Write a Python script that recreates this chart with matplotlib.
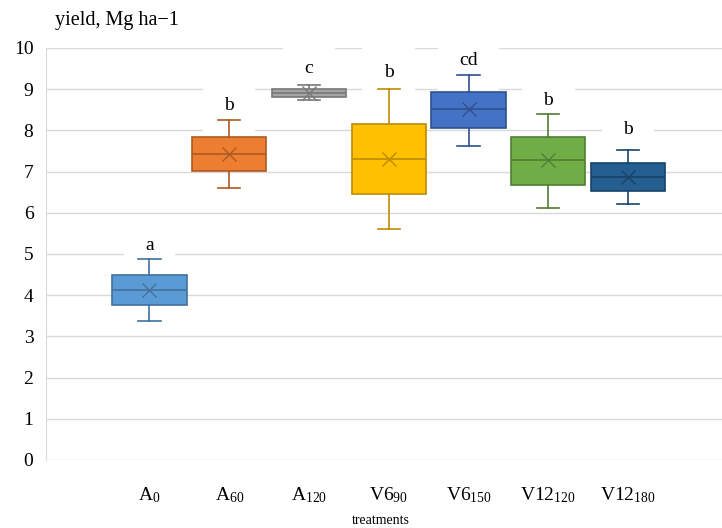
import numpy as np
import matplotlib
matplotlib.use("Agg")
import matplotlib.pyplot as plt

plt.rcParams['font.family'] = ['Liberation Serif', 'DejaVu Serif']
plt.rcParams['mathtext.fontset'] = 'custom'
plt.rcParams['mathtext.rm'] = 'Liberation Serif'
plt.rcParams['mathtext.it'] = 'Liberation Serif'

# treatments and box statistics (yield, Mg/ha)
treatments = [r'A$_{\mathrm{0}}$', r'A$_{\mathrm{60}}$', r'A$_{\mathrm{120}}$',
              r'V6$_{\mathrm{90}}$', r'V6$_{\mathrm{150}}$',
              r'V12$_{\mathrm{120}}$', r'V12$_{\mathrm{180}}$']
whislo = [3.38, 6.60, 8.73, 5.60, 7.63, 6.12, 6.22]
q1 = [3.76, 7.01, 8.81, 6.46, 8.05, 6.67, 6.53]
med = [4.12, 7.43, 8.91, 7.30, 8.51, 7.27, 6.86]
q3 = [4.48, 7.84, 9.00, 8.16, 8.94, 7.84, 7.20]
whishi = [4.87, 8.25, 9.10, 9.01, 9.35, 8.41, 7.52]
means = [4.12, 7.43, 8.91, 7.30, 8.51, 7.27, 6.86]

# significance letters and where they sit
letters = ['a', 'b', 'c', 'b', 'cd', 'b', 'b']
letter_y = [5.2, 8.6, 9.5, 9.4, 9.7, 8.73, 8.03]

fills = ['#5B9BD5', '#ED7D31', '#A5A5A5', '#FFC000', '#4472C4', '#70AD47', '#255E91']
edges = ['#41719C', '#AE5A21', '#787878', '#BC8C00', '#2F528F', '#507E32', '#1A4368']

fig = plt.figure(figsize=(7.22, 5.28), dpi=100)
ax = fig.add_axes([46 / 722, 68 / 528, 676 / 722, 412 / 528])

stats = []
for i in range(len(treatments)):
    stats.append(dict(whislo=whislo[i], q1=q1[i], med=med[i], q3=q3[i],
                      whishi=whishi[i], mean=means[i], fliers=[]))

pos = np.arange(len(treatments))
for i, s in enumerate(stats):
    ax.bxp([s], positions=[pos[i]], widths=0.93, capwidths=0.28,
           patch_artist=True, showmeans=True, showfliers=False,
           boxprops=dict(facecolor=fills[i], edgecolor=edges[i], linewidth=1.2),
           medianprops=dict(color=edges[i], linewidth=1.2),
           whiskerprops=dict(color=edges[i], linewidth=1.2),
           capprops=dict(color=edges[i], linewidth=1.2),
           meanprops=dict(marker='x', markeredgecolor=edges[i], markersize=10,
                          markeredgewidth=1.0),
           zorder=3)

# letters sit on white patches that hide the grid but not the boxes
for i, t in enumerate(letters):
    ax.text(pos[i], letter_y[i], t, ha='center', va='center', fontsize=14,
            zorder=2, bbox=dict(facecolor='white', edgecolor='none',
                                boxstyle='square,pad=1.1'))

ax.set_xlim(-1.297, 7.178)
ax.set_ylim(0, 10)
ax.set_yticks(np.arange(0, 11, 1))
ax.set_xticks(pos)
ax.set_xticklabels(treatments, fontsize=14)
ax.tick_params(axis='both', length=0, labelsize=14)
ax.tick_params(axis='x', pad=18)
ax.tick_params(axis='y', pad=9)
ax.grid(axis='y', color='#D9D9D9', linewidth=1.0, zorder=0)
ax.set_axisbelow(True)
for side in ['top', 'right', 'bottom']:
    ax.spines[side].set_visible(False)
ax.spines['left'].set_color('#D9D9D9')

fig.text(55 / 722, 1 - 20 / 528, 'yield, Mg ha\u22121', fontsize=14.5, va='center', ha='left')
fig.text(381 / 722, 1 - 520 / 528, 'treatments', fontsize=10, va='center', ha='center')

fig.savefig('out.png', dpi=100)
